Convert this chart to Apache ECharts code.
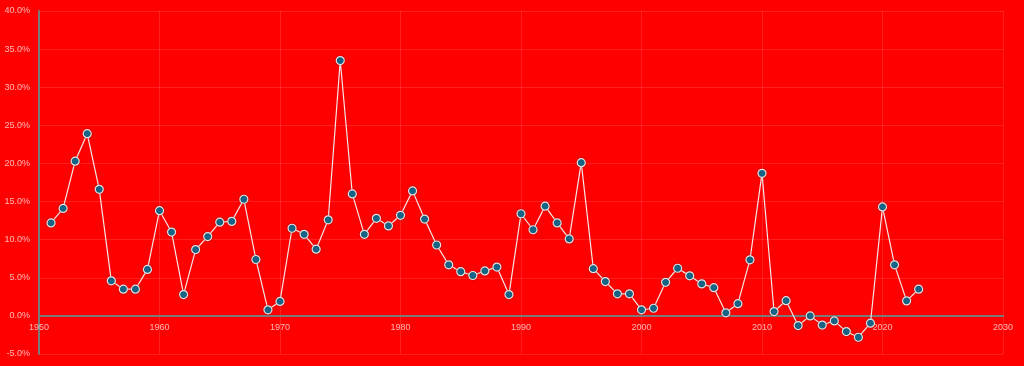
<!DOCTYPE html>
<html>
<head>
<meta charset="utf-8">
<script src="https://cdn.jsdelivr.net/npm/echarts@6/dist/echarts.min.js"></script>
<style>
  html, body { margin: 0; padding: 0; background: #ff0000; }
  #chart { width: 1024px; height: 366px; }
</style>
</head>
<body>
<div id="chart"></div>
<script>
const years = [
  1951, 1952, 1953, 1954, 1955, 1956, 1957, 1958, 1959, 1960,
  1961, 1962, 1963, 1964, 1965, 1966, 1967, 1968, 1969, 1970,
  1971, 1972, 1973, 1974, 1975, 1976, 1977, 1978, 1979, 1980,
  1981, 1982, 1983, 1984, 1985, 1986, 1987, 1988, 1989, 1990,
  1991, 1992, 1993, 1994, 1995, 1996, 1997, 1998, 1999, 2000,
  2001, 2002, 2003, 2004, 2005, 2006, 2007, 2008, 2009, 2010,
  2011, 2012, 2013, 2014, 2015, 2016, 2017, 2018, 2019, 2020,
  2021, 2022, 2023
]

// percent values
const rates = [
  12.2, 14.1, 20.3, 23.9, 16.6, 4.6, 3.5, 3.5, 6.1, 13.8,
  11.0, 2.8, 8.7, 10.4, 12.3, 12.4, 15.3, 7.4, 0.8, 1.9,
  11.5, 10.7, 8.75, 12.6, 33.5, 16.0, 10.7, 12.8, 11.8, 13.2,
  16.4, 12.7, 9.3, 6.7, 5.8, 5.3, 5.9, 6.4, 2.8, 13.4,
  11.3, 14.4, 12.2, 10.1, 20.1, 6.2, 4.5, 2.9, 2.9, 0.8,
  1.0, 4.4, 6.25, 5.25, 4.2, 3.7, 0.4, 1.6, 7.35, 18.7,
  0.57, 2.0, -1.27, 0.0, -1.2, -0.66, -2.06, -2.8, -0.96, 14.3,
  6.7, 1.97, 3.5
]

const chart = echarts.init(document.getElementById('chart'))

const labelColor = 'rgba(255, 255, 255, 0.7)'
const splitColor = 'rgba(255, 255, 255, 0.12)'
const axisColor = '#7a7a7a'
const labelFont = 'Liberation Sans'

chart.setOption({
  backgroundColor: '#ff0000',
  animation: false,
  grid: { left: 39, right: 21, top: 11, bottom: 12, outerBoundsMode: 'none' },
  xAxis: {
    type: 'value',
    min: 1950,
    max: 2030,
    interval: 10,
    // labels sit just under the zero line, so shift the whole axis up to it
    offset: -38,
    axisLine: { onZero: false, lineStyle: { color: axisColor, width: 2 } },
    axisTick: { show: false },
    axisLabel: {
      color: labelColor,
      fontSize: 9,
      fontFamily: labelFont,
      margin: 7,
      formatter: (v) => String(v),
    },
    splitLine: { show: true, lineStyle: { color: splitColor } },
  },
  yAxis: {
    type: 'value',
    min: -5,
    max: 40,
    interval: 5,
    axisLine: { show: true, lineStyle: { color: axisColor, width: 2 } },
    axisTick: { show: false },
    axisLabel: {
      color: labelColor,
      fontSize: 9,
      fontFamily: labelFont,
      margin: 9,
      formatter: (v) => v.toFixed(1) + '%',
    },
    splitLine: { show: true, lineStyle: { color: splitColor } },
  },
  series: [
    {
      type: 'line',
      data: years.map((y, i) => [y, rates[i]]),
      symbol: 'circle',
      symbolSize: 8,
      lineStyle: { color: '#f3e6e6', width: 1.2 },
      itemStyle: {
        color: '#16678a',
        borderColor: '#e8e0e0',
        borderWidth: 1.2,
        shadowColor: 'rgba(0, 0, 0, 0.3)',
        shadowBlur: 2,
      },
    },
  ],
})
</script>
</body>
</html>
